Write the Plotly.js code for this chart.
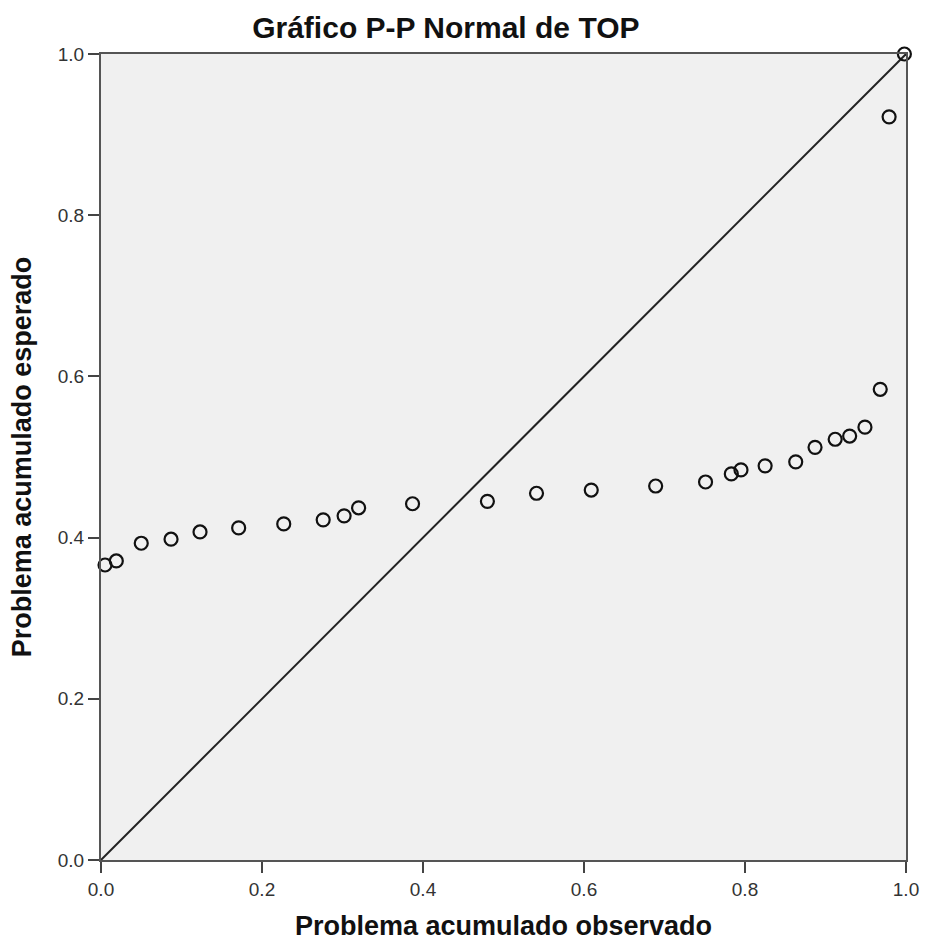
<!DOCTYPE html>
<html>
<head>
<meta charset="utf-8">
<script src="https://cdn.plot.ly/plotly-3.0.1.min.js"></script>
<style>html,body{margin:0;padding:0;background:#fff;}</style>
</head>
<body>
<div id="chart" style="width:925px;height:949px;"></div>
<script>
const observed = [0.005, 0.019, 0.050, 0.087, 0.123, 0.171, 0.227, 0.276, 0.302, 0.320, 0.387, 0.480, 0.541, 0.609, 0.689, 0.751, 0.783, 0.795, 0.825, 0.863, 0.887, 0.912, 0.930, 0.949, 0.968, 0.979, 0.998];
const expected = [0.366, 0.371, 0.393, 0.398, 0.407, 0.412, 0.417, 0.422, 0.427, 0.437, 0.442, 0.445, 0.455, 0.459, 0.464, 0.469, 0.479, 0.484, 0.489, 0.494, 0.512, 0.522, 0.526, 0.537, 0.584, 0.922, 1.0];
const refLine = [0, 1];
const tickVals = [0, 0.2, 0.4, 0.6, 0.8, 1.0];
const tickText = ["0.0", "0.2", "0.4", "0.6", "0.8", "1.0"];

const FONT = '"Liberation Sans", Arial, sans-serif';
const traces = [
  {x: refLine, y: refLine, mode: 'lines', line: {color: '#222', width: 2}, hoverinfo: 'skip', cliponaxis: false},
  {x: observed, y: expected, mode: 'markers', cliponaxis: false,
   marker: {symbol: 'circle-open', size: 13, color: '#111', line: {width: 2.2, color: '#111'}}}
];
const axisCommon = {
  range: [0, 1], tickvals: tickVals, ticktext: tickText,
  showgrid: false, zeroline: false, showline: true, mirror: true,
  linecolor: '#555', linewidth: 2, ticks: 'outside', ticklen: 11, tickwidth: 2, tickcolor: '#444',
  tickfont: {family: FONT, size: 19, color: '#333'}
};
const layout = {
  width: 925, height: 949,
  margin: {l: 101, r: 19, t: 54, b: 89},
  paper_bgcolor: '#fff', plot_bgcolor: '#f0f0f0',
  showlegend: false,
  title: {text: 'Gráfico P-P Normal de TOP', x: 0.482, xanchor: 'center', y: 0.9715, yanchor: 'middle',
    font: {family: FONT, size: 30, color: '#111', weight: 'bold'}},
  xaxis: Object.assign({}, axisCommon, {
    title: {text: 'Problema acumulado observado', standoff: 17,
      font: {family: FONT, size: 27, color: '#111', weight: 'bold'}}
  }),
  yaxis: Object.assign({}, axisCommon, {
    title: {text: 'Problema acumulado esperado', standoff: 18,
      font: {family: FONT, size: 27, color: '#111', weight: 'bold'}}
  })
};
Plotly.newPlot('chart', traces, layout, {displayModeBar: false});
</script>
</body>
</html>
